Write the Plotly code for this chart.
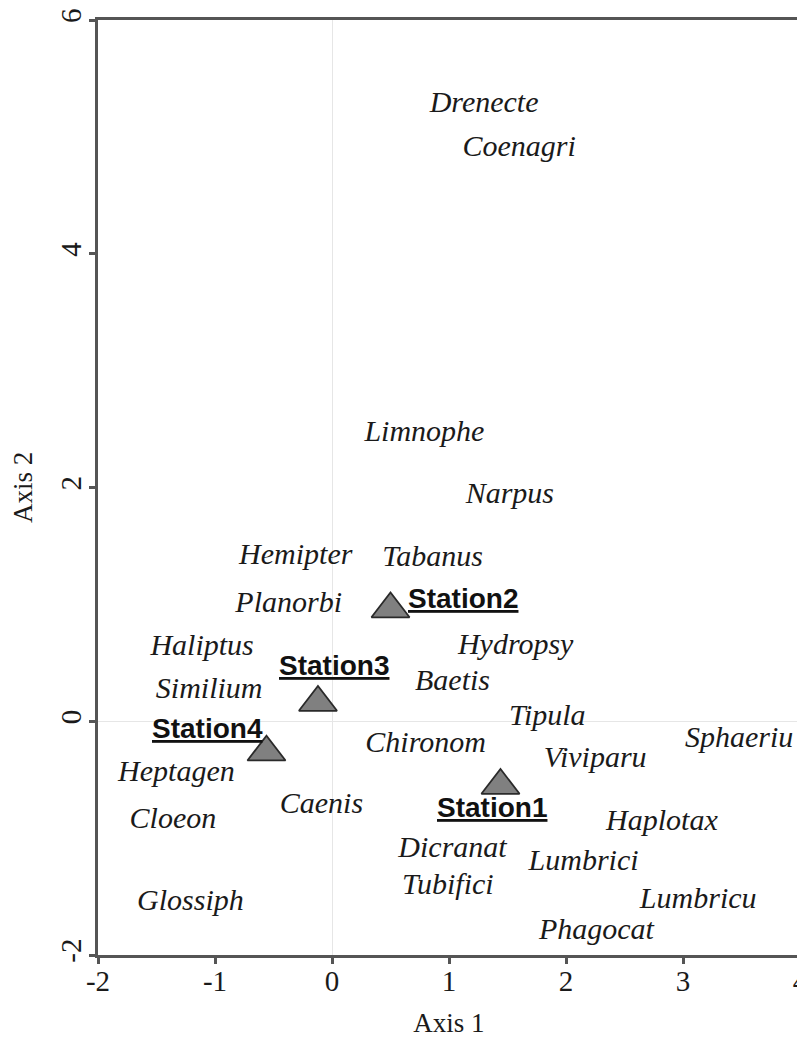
import plotly.graph_objects as go

species = ["Drenecte", "Coenagri", "Limnophe", "Narpus", "Hemipter", "Tabanus",
           "Planorbi", "Hydropsy", "Haliptus", "Similium", "Baetis", "Tipula",
           "Sphaeriu", "Chironom", "Viviparu", "Heptagen", "Caenis", "Cloeon",
           "Haplotax", "Dicranat", "Lumbrici", "Tubifici", "Lumbricu", "Glossiph",
           "Phagocat"]
species_x = [1.30, 1.60, 0.79, 1.52, -0.31, 0.86, -0.37, 1.57, -1.11, -1.05, 1.03, 1.84,
             3.48, 0.80, 2.25, -1.33, -0.09, -1.36, 2.82, 1.03, 2.15, 0.99, 3.13, -1.21, 2.26]
species_y = [5.28, 4.90, 2.46, 1.93, 1.41, 1.39, 1.00, 0.64, 0.63, 0.26, 0.33, 0.03,
             -0.16, -0.20, -0.33, -0.45, -0.72, -0.85, -0.87, -1.10, -1.21, -1.41, -1.53, -1.55, -1.80]

stations = ["Station1", "Station2", "Station3", "Station4"]
station_x = [1.44, 0.50, -0.12, -0.56]
station_y = [-0.55, 0.96, 0.16, -0.265]

x_ticks = [-2, -1, 0, 1, 2, 3, 4]
x_ticktext = ["-2", "-1", "0", "1", "2", "3", "4"]
y_ticks = [-2, 0, 2, 4, 6]
y_ticktext = ["-2", "0", "2", "4", "6"]

# label placement (pixel offsets of the label centre relative to the station marker)
label_shift = [(-8, -22), (72, 11), (16, 37), (-59, 24)]

fig = go.Figure()
fig.add_trace(go.Scatter(
    x=species_x, y=species_y, mode="text", text=species,
    textfont=dict(family="Liberation Serif", size=30, color="#1a1a1a", style="italic"),
    hoverinfo="text", showlegend=False, cliponaxis=False))
fig.add_trace(go.Scatter(
    x=station_x, y=station_y, mode="markers",
    marker=dict(symbol="triangle-up", size=33, color="#808080",
                line=dict(color="#2a2a2a", width=1.8)),
    hovertext=stations, hoverinfo="text", showlegend=False))

for name, sx, sy, (xs, ys) in zip(stations, station_x, station_y, label_shift):
    fig.add_annotation(x=sx, y=sy, text="<b><u>" + name + "</u></b>", showarrow=False,
                       xanchor="center", yanchor="middle", xshift=xs, yshift=ys,
                       font=dict(family="Liberation Sans", size=28, color="#111111"))

axis_common = dict(showline=True, linecolor="#555555", linewidth=2.5, mirror=True,
                   ticks="outside", ticklen=6, tickwidth=2.5, tickcolor="#555555",
                   showgrid=False, zeroline=True, zerolinecolor="#e6e6e6", zerolinewidth=1,
                   automargin=False, ticklabeloverflow="allow",
                   tickfont=dict(family="Liberation Serif", size=29, color="#1a1a1a"))

fig.update_xaxes(range=[-2, 4], tickvals=x_ticks, ticktext=x_ticktext, **axis_common,
                 ticklabelstandoff=-8,
                 title=dict(text="Axis 1", standoff=18,
                            font=dict(family="Liberation Serif", size=27, color="#1a1a1a")))
fig.update_yaxes(range=[-2, 6], tickvals=y_ticks, ticktext=y_ticktext, tickangle=-90,
                 **axis_common, ticklabelstandoff=-3,
                 title=dict(text="Axis 2", standoff=23,
                            font=dict(family="Liberation Serif", size=27, color="#1a1a1a")))

# the page body adds an 8 px margin, so the figure is sized to fit the window
fig.update_layout(width=797, height=1030, plot_bgcolor="white", paper_bgcolor="white",
                  margin=dict(l=90, r=5, t=12, b=83, autoexpand=False))

fig.write_html("out.html")
